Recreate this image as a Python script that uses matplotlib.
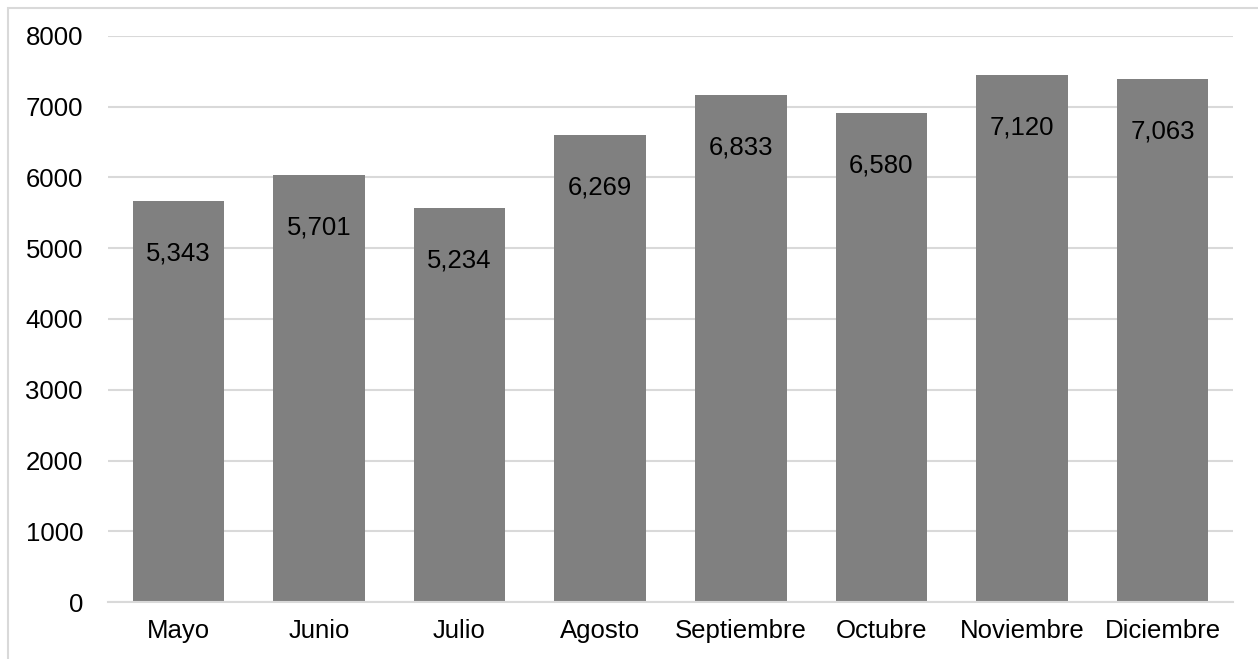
import matplotlib.pyplot as plt
from matplotlib.patches import Rectangle

meses = ['Mayo', 'Junio', 'Julio', 'Agosto', 'Septiembre', 'Octubre', 'Noviembre', 'Diciembre']
valores = [5343, 5701, 5234, 6269, 6833, 6580, 7120, 7063]
# second stacked series (same colour, no labels)
extra = [329, 334, 331, 332, 333, 332, 325, 325]
yticks = [0, 1000, 2000, 3000, 4000, 5000, 6000, 7000, 8000]

plt.rcParams['font.family'] = ['Liberation Sans', 'DejaVu Sans']

fig = plt.figure(figsize=(12.58, 6.59), dpi=100)
ax = fig.add_axes([108 / 1258, 57 / 659, 1125 / 1258, 566 / 659])

x = list(range(len(meses)))
ax.bar(x, valores, width=0.65, color='#808080', linewidth=0, zorder=2)
ax.bar(x, extra, bottom=valores, width=0.65, color='#808080', linewidth=0, zorder=2)

for i, v in enumerate(valores):
    ax.annotate(f'{v:,}', (i, v), xytext=(0, -21), textcoords='offset points',
                ha='center', va='center', fontsize=18.5, color='#000000', zorder=3)

ax.set_xlim(-0.5, len(meses) - 0.5)
ax.set_ylim(0, 8000)
ax.set_yticks(yticks)
ax.set_xticks(x)
ax.set_xticklabels(meses)
ax.tick_params(axis='both', length=0, labelsize=18.5, colors='#000000')
ax.tick_params(axis='y', pad=18)
ax.tick_params(axis='x', pad=12)
ax.yaxis.grid(True, color='#d9d9d9', linewidth=1.5, zorder=0)
ax.set_axisbelow(True)
for s in ['top', 'right', 'left']:
    ax.spines[s].set_visible(False)
ax.spines['bottom'].set_color('#d9d9d9')
ax.spines['bottom'].set_linewidth(1.5)
ax.spines['bottom'].set_zorder(4)

fig.patches.append(Rectangle((8 / 1258, -0.01), 1.1, 651 / 659 + 0.01, transform=fig.transFigure,
                             fill=False, edgecolor='#d9d9d9', linewidth=1.5))

fig.savefig('out.png', dpi=100)
